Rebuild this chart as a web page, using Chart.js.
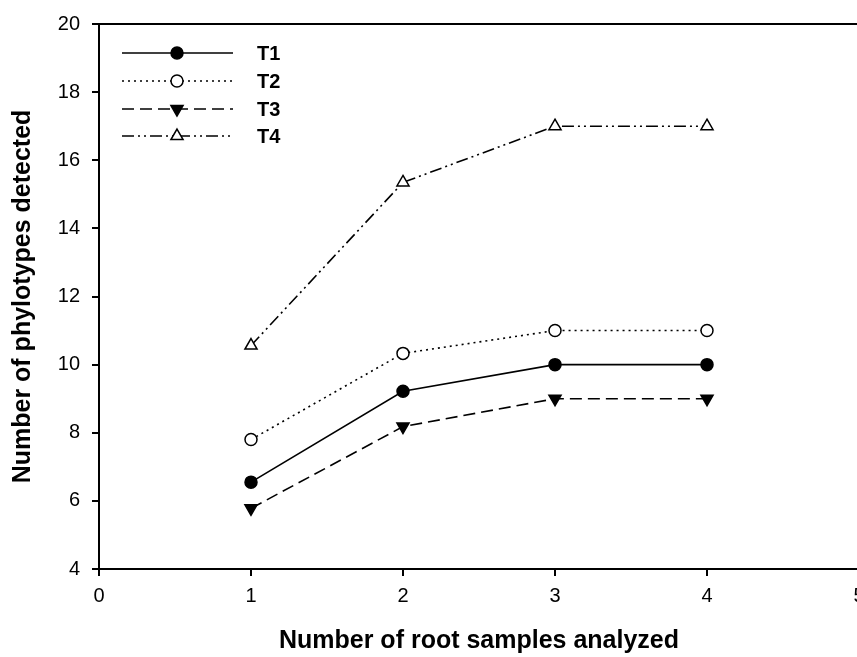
<!DOCTYPE html>
<html>
<head>
<meta charset="utf-8">
<script src="https://cdn.jsdelivr.net/npm/chart.js@4/dist/chart.umd.min.js"></script>
<style>
  html, body { margin: 0; padding: 0; background: #fff; overflow: hidden; }
  #wrap { width: 880px; height: 657px; position: relative; }
</style>
</head>
<body>
<div id="wrap"><canvas id="c"></canvas></div>
<script>
// ---- data ----
const xValues = [1, 2, 3, 4];
const seriesNames = ['T1', 'T2', 'T3', 'T4'];
const t1Values = [6.55, 9.22, 10, 10];
const t2Values = [7.8, 10.33, 11, 11];
const t3Values = [5.78, 8.18, 9, 9];
const t4Values = [10.56, 15.35, 17, 17];
const xTicks = [0, 1, 2, 3, 4, 5];
const yTicks = [4, 6, 8, 10, 12, 14, 16, 18, 20];
const xTitle = 'Number of root samples analyzed';
const yTitle = 'Number of phylotypes detected';

const FONT = '"Liberation Sans", Arial, sans-serif';
const toPts = (ys) => xValues.map((x, i) => ({ x: x, y: ys[i] }));

const styles = [
  { dash: [], pointStyle: 'circle', fill: '#000', rot: 0, r: 6 },
  { dash: [2, 4], pointStyle: 'circle', fill: '#fff', rot: 0, r: 6 },
  { dash: [12, 6], pointStyle: 'triangle', fill: '#000', rot: 180, r: 7 },
  { dash: [12, 4, 2, 4, 2, 4], pointStyle: 'triangle', fill: '#fff', rot: 0, r: 7 }
];
const allValues = [t1Values, t2Values, t3Values, t4Values];

const datasets = allValues.map((vals, i) => ({
  label: seriesNames[i],
  data: toPts(vals),
  borderColor: '#000',
  borderWidth: 1.6,
  borderDash: styles[i].dash,
  pointStyle: styles[i].pointStyle,
  pointRotation: styles[i].rot,
  pointRadius: styles[i].r,
  pointHoverRadius: styles[i].r,
  pointBackgroundColor: styles[i].fill,
  pointBorderColor: '#000',
  pointBorderWidth: 1.5,
  tension: 0,
  fill: false
}));

const frameAndLegend = {
  id: 'frameAndLegend',
  afterDraw(chart) {
    const ctx = chart.ctx;
    const a = chart.chartArea;
    ctx.save();
    // top frame line
    ctx.strokeStyle = '#000';
    ctx.lineWidth = 2;
    ctx.beginPath();
    ctx.moveTo(a.left, a.top);
    ctx.lineTo(a.right + 5, a.top);
    ctx.stroke();
    // legend
    const rowY = [53, 81, 109, 136];
    chart.data.datasets.forEach((ds, i) => {
      const y = rowY[i];
      ctx.save();
      ctx.strokeStyle = '#000';
      ctx.lineWidth = 1.6;
      ctx.setLineDash(ds.borderDash);
      ctx.beginPath();
      ctx.moveTo(122, y);
      ctx.lineTo(233, y);
      ctx.stroke();
      ctx.restore();
      ctx.save();
      ctx.fillStyle = ds.pointBackgroundColor;
      ctx.strokeStyle = '#000';
      ctx.lineWidth = 1.5;
      Chart.helpers.drawPoint(ctx, { pointStyle: ds.pointStyle, rotation: ds.pointRotation, radius: ds.pointRadius, borderWidth: 1.5 }, 177, y);
      ctx.restore();
      ctx.fillStyle = '#000';
      ctx.font = 'bold 20px ' + FONT;
      ctx.textAlign = 'left';
      ctx.textBaseline = 'middle';
      ctx.fillText(ds.label, 257, y + 1);
    });
    ctx.restore();
  }
};

new Chart(document.getElementById('c'), {
  type: 'line',
  data: { datasets: datasets },
  options: {
    responsive: true,
    maintainAspectRatio: false,
    animation: false,
    devicePixelRatio: 1,
    layout: { padding: { top: 21, right: 21, left: 0, bottom: 0 } },
    plugins: { legend: { display: false }, tooltip: { enabled: false } },
    scales: {
      x: {
        type: 'linear',
        min: 0, max: 5,
        afterBuildTicks: (s) => { s.ticks = xTicks.map(v => ({ value: v })); },
        afterFit: (s) => { s.height = 88; },
        border: { display: true, color: '#000', width: 2 },
        grid: { drawOnChartArea: false, drawTicks: true, tickLength: 7, color: '#000', lineWidth: 2 },
        ticks: { color: '#000', padding: 8, maxRotation: 0, autoSkip: false, font: { family: FONT, size: 20 } },
        title: { display: true, text: xTitle, color: '#000', padding: { top: 0, bottom: 1 }, font: { family: FONT, size: 25, weight: 'bold' } }
      },
      y: {
        type: 'linear',
        min: 4, max: 20,
        afterBuildTicks: (s) => { s.ticks = yTicks.map(v => ({ value: v })); },
        afterFit: (s) => { s.width = 99; },
        border: { display: true, color: '#000', width: 2 },
        grid: { drawOnChartArea: false, drawTicks: true, tickLength: 7, color: '#000', lineWidth: 2 },
        ticks: { color: '#000', padding: 12, autoSkip: false, font: { family: FONT, size: 20 } },
        title: { display: true, text: yTitle, color: '#000', padding: { top: 8, bottom: 0 }, font: { family: FONT, size: 25, weight: 'bold' } }
      }
    }
  },
  plugins: [frameAndLegend]
});
</script>
</body>
</html>
